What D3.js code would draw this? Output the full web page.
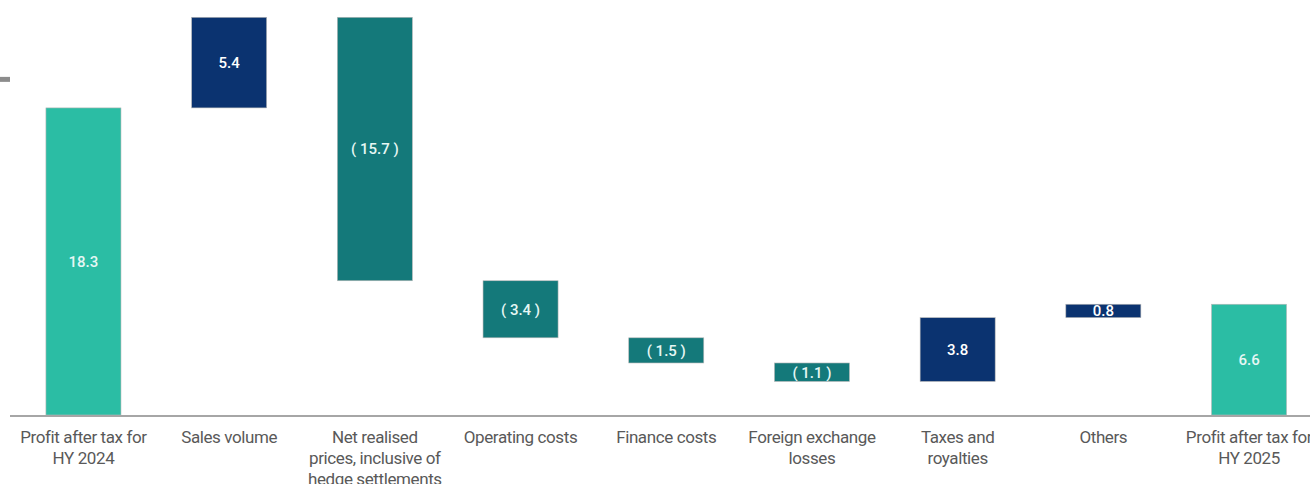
<!DOCTYPE html>
<html><head><meta charset="utf-8">
<script src="https://cdn.jsdelivr.net/npm/d3@7/dist/d3.min.js"></script>
<style>
html,body{margin:0;padding:0;background:#fff;}
svg{display:block;}
</style></head>
<body>
<svg id="chart" width="1310" height="484"></svg>
<script>
const categories = [
  ["Profit after tax for", "HY 2024"],
  ["Sales volume"],
  ["Net realised", "prices, inclusive of", "hedge settlements"],
  ["Operating costs"],
  ["Finance costs"],
  ["Foreign exchange", "losses"],
  ["Taxes and", "royalties"],
  ["Others"],
  ["Profit after tax for", "HY 2025"]
];
const values = [18.3, 5.4, -15.7, -3.4, -1.5, -1.1, 3.8, 0.8, 6.6];
const kinds = ["total", "delta", "delta", "delta", "delta", "delta", "delta", "delta", "total"];
const valueLabels = ["18.3", "5.4", "( 15.7 )", "( 3.4 )", "( 1.5 )", "( 1.1 )", "3.8", "0.8", "6.6"];
const axisTicks = [20];

const colors = {total: "#2BBDA4", up: "#0B3370", down: "#14797A"};

let run = 0;
const bars = values.map((v, i) => {
  let y0, y1, type;
  if (kinds[i] === "total") { y0 = 0; y1 = v; run = v; type = "total"; }
  else { y0 = run; y1 = run + v; run = y1; type = v >= 0 ? "up" : "down"; }
  return {i, lo: Math.min(y0, y1), hi: Math.max(y0, y1), type, label: valueLabels[i], cat: categories[i]};
});

const svg = d3.select("#chart");
const x = d3.scaleBand().domain(d3.range(categories.length)).range([10.6, 1321.9]).paddingInner(0.485).paddingOuter(0.2425);
const y = d3.scaleLinear().domain([0, 24.73]).range([415, 0]);

svg.selectAll(".tk").data(axisTicks).join("line")
  .attr("x1", 0).attr("x2", 10).attr("y1", d => y(d)).attr("y2", d => y(d))
  .attr("stroke", "#8c8c8c").attr("stroke-width", 5);

const clip = svg.append("defs");
bars.forEach(b => {
  clip.append("clipPath").attr("id", "c" + b.i).append("rect")
    .attr("x", x(b.i)).attr("y", y(b.hi)).attr("width", x.bandwidth()).attr("height", y(b.lo) - y(b.hi));
});

svg.selectAll(".bar").data(bars).join("rect")
  .attr("x", d => x(d.i)).attr("width", x.bandwidth())
  .attr("y", d => y(d.hi)).attr("height", d => y(d.lo) - y(d.hi))
  .attr("fill", d => colors[d.type])
  .attr("stroke", "#b8b8b8").attr("stroke-width", 0.6);

svg.selectAll(".val").data(bars).join("text")
  .attr("clip-path", d => "url(#c" + d.i + ")")
  .attr("x", d => x(d.i) + x.bandwidth() / 2)
  .attr("y", d => (y(d.hi) + y(d.lo)) / 2)
  .attr("dy", "0.36em")
  .attr("text-anchor", "middle")
  .attr("font-family", "Roboto, sans-serif")
  .attr("font-size", 15).attr("font-weight", 500)
  .attr("fill", d => d.type === "up" ? "#ffffff" : "#e6f7f4")
  .text(d => d.label);

svg.append("line").attr("x1", 10).attr("x2", 1310).attr("y1", y(0) + 1).attr("y2", y(0) + 1)
  .attr("stroke", "#a6a6a6").attr("stroke-width", 2);

const lab = svg.selectAll(".cat").data(bars).join("text")
  .attr("text-anchor", "middle")
  .attr("font-family", "Roboto, sans-serif")
  .attr("font-size", 17).attr("letter-spacing", "-0.4px")
  .attr("fill", "#595959");
lab.each(function(d) {
  const t = d3.select(this);
  d.cat.forEach((line, k) => {
    t.append("tspan").attr("x", x(d.i) + x.bandwidth() / 2).attr("y", 443 + k * 21).text(line);
  });
});
</script>
</body></html>
